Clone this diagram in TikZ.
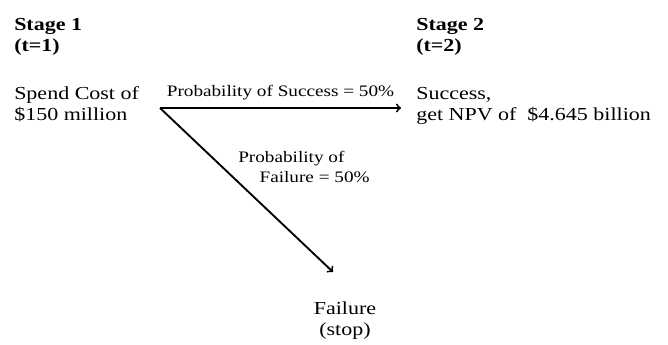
\documentclass[tikz,border=0pt]{standalone}
\usepackage{fontspec}
\setmainfont[FakeStretch=1.2]{Liberation Serif}
\usepackage{tikz}

\begin{document}
\begin{tikzpicture}[x=0.75pt,y=-0.75pt]%
  \tikzstyle{txt}=[inner sep=0,font=\fontsize{13.75}{15.75}\selectfont]
  \tikzstyle{hdr}=[txt,align=left,font=\fontsize{13.75}{15.75}\selectfont\bfseries]
  \tikzstyle{lbl}=[inner sep=0,font=\fontsize{12}{15}\selectfont]
  \tikzstyle{arr}=[->,line width=1.4pt]
  \useasboundingbox (0,0) rectangle (668,345);
  \node(stageA)[hdr,anchor=base west] at (14,52) {Stage 1\\(t=1)};
  \node(stageB)[hdr,anchor=base west] at (416,52) {Stage 2\\(t=2)};
  \node(spend)[txt,align=left,anchor=base west] at (14,121) {Spend Cost of\\\$150 million};
  \node(success)[txt,align=left,anchor=base west] at (416,121) {Success,\\get NPV of \ \$4.645 billion};
  \node(failure)[txt,align=center,anchor=base] at (345,336) {Failure\\(stop)};
  \coordinate (root) at (160,108);
  \coordinate (tipS) at (401,108);
  \coordinate (tipF) at (333,272);
  \draw[arr] (root) -- node(pS)[lbl,above=5pt]{Probability of Success = 50\%} (tipS);
  \draw[arr] (root) -- (tipF);
  \node(pF)[lbl,align=left,anchor=base west] at (238,183) {Probability of\\\hspace*{16pt}Failure = 50\%};
\end{tikzpicture}
\end{document}
